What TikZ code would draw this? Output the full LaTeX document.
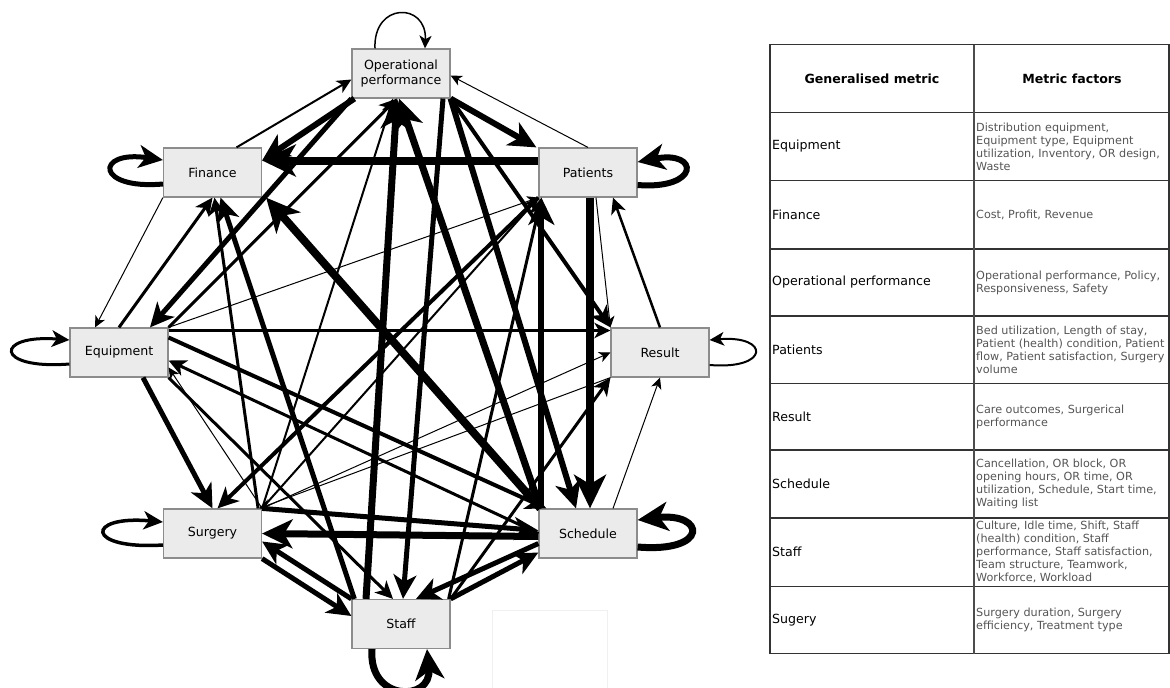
\documentclass[tikz,border=0pt]{standalone}
\usepackage{fontspec}
\setmainfont{DejaVu Sans}
\usetikzlibrary{arrows.meta}
\definecolor{boxfill}{HTML}{EBEBEB}
\definecolor{boxline}{HTML}{8C8C8C}
\definecolor{factortext}{HTML}{555555}
\definecolor{rule}{HTML}{333333}

\begin{document}
\begin{tikzpicture}[x=1pt,y=-1pt,
  metric/.style={draw=boxline, fill=boxfill, line width=1.2pt,
    minimum width=98pt, minimum height=49pt, inner sep=0pt,
    align=center, font=\fontsize{12.6}{15}\selectfont, text=black},
  link/.style={draw=black, line width=#1pt,
    -{Stealth[length=8pt 3.2, width'=0pt 0.95, inset'=0pt 0.28]}},
  label/.style={anchor=west, inner sep=0pt, font=\fontsize{12.6}{15}\selectfont, text=black},
  factor/.style={anchor=west, inner sep=0pt, align=left,
    font=\fontsize{11.2}{13}\selectfont, text=factortext},
  head/.style={inner sep=0pt, font=\fontsize{12.6}{15}\selectfont\bfseries, text=black}]

\useasboundingbox (0,0) rectangle (1170,688);
\fill[white] (0,0) rectangle (1170,688);
\clip (0,0) rectangle (1170,688);

% ---------- metric boxes ----------
\node[metric] (op)  at (401,73.5)  {Operational\\performance};
\node[metric] (fin) at (212.5,172.5) {Finance};
\node[metric] (pat) at (588,172.5) {Patients};
\node[metric] (eq)  at (119,352.5) {Equipment};
\node[metric] (res) at (660,352.5) {Result};
\node[metric] (sur) at (212.5,533.5) {Surgery};
\node[metric] (sch) at (588,533.5) {Schedule};
\node[metric] (sta) at (401,624)   {Staff};

% empty frame below the graph
\draw[draw=black!6, line width=1pt] (492,610) rectangle (607,692);

% ---------- self loops ----------
\draw[link=1.5] ([xshift=-26pt]op.north) .. controls (373,2) and (427,2) .. ([xshift=24pt]op.north);
\draw[link=5] ([yshift=-11.5pt]fin.west) .. controls (95,190) and (95,150) .. ([yshift=12.5pt]fin.west);
\draw[link=6] ([yshift=-12.5pt]pat.east) .. controls (700,190) and (700,150) .. ([yshift=10.5pt]pat.east);
\draw[link=3] ([yshift=-11.5pt]eq.west) .. controls (-6,370) and (-6,334) .. ([yshift=12.5pt]eq.west);
\draw[link=2] ([yshift=-12.5pt]res.east) .. controls (770,370) and (770,335) .. ([yshift=12.5pt]res.east);
\draw[link=3.5] ([yshift=-11.5pt]sur.west) .. controls (85,550) and (85,515) .. ([yshift=11.5pt]sur.west);
\draw[link=7] ([yshift=-13.5pt]sch.east) .. controls (710,553) and (705,512) .. ([yshift=13.5pt]sch.east);
\draw[link=7] ([xshift=-29pt]sta.south) .. controls (368,702) and (432,702) .. ([xshift=26pt]sta.south);

% ---------- links between metrics ----------
\draw[link=8] ([yshift=12pt]pat.west) -- ([yshift=12pt]fin.east);
\draw[link=6] ([xshift=3pt]op.south west) -- ([yshift=12pt]fin.east);
\draw[link=2] ([xshift=24pt]fin.north) -- ([yshift=-6pt]op.west);
\draw[link=6] (op.south east) -- ([xshift=-2pt]pat.north west);
\draw[link=1] (pat.north) -- ([yshift=-2pt]op.east);
\draw[link=2.5] (res.north) -- ([xshift=25pt]pat.south);
\draw[link=1] ([xshift=8pt]pat.south) -- (res.north west);
\draw[link=8] ([xshift=2pt]pat.south) -- ([xshift=2pt]sch.north);
\draw[link=6] ([xshift=3pt]sch.north west) -- ([xshift=3pt]pat.south west);
\draw[link=1] (eq.north east) -- (pat.south west);
\draw[link=5] (op.south west) -- ([xshift=31pt]eq.north);
\draw[link=3] (eq.north east) -- ([xshift=-4pt]op.south);
\draw[link=3] (eq.north) -- (fin.south);
\draw[link=1] (fin.south west) -- ([xshift=-24pt]eq.north);
\draw[link=2.5] ([yshift=22pt]eq.east) -- ([yshift=22pt]res.west);
\draw[link=5] ([xshift=24pt]eq.south) -- (sur.north);
\draw[link=1] (sur.north east) -- ([yshift=-15pt]eq.east);
\draw[link=3] (sch.west) -- ([yshift=-8pt]eq.east);
\draw[link=4] ([yshift=15pt]eq.east) -- ([xshift=8pt]sch.north west);
\draw[link=5] ([xshift=3pt]sta.north west) -- ([xshift=8pt]fin.south);
\draw[link=3] ([xshift=-4pt]sur.north east) -- ([xshift=2pt]fin.south);
\draw[link=8] ([xshift=2pt]sch.north west) -- ([xshift=4pt]fin.south east);
\draw[link=4] (op.south east) -- (res.north west);
\draw[link=4] (pat.south west) -- ([xshift=5pt]sur.north);
\draw[link=2] (sur.north east) -- (pat.south west);
\draw[link=1] (sur.north east) -- (res.west);
\draw[link=1] (res.south west) -- ([xshift=-3pt]sur.north east);
\draw[link=2] (sur.north east) -- ([xshift=-8pt]op.south);
\draw[link=3] (sta.north east) -- (res.south west);
\draw[link=1] ([xshift=25pt]sch.north) -- (res.south);
\draw[link=7] ([xshift=-35pt]sta.north) -- ([xshift=-4pt]op.south);
\draw[link=5] ([xshift=42pt]op.south) -- ([xshift=2pt]sta.north);
\draw[link=6] (op.south east) -- ([xshift=-12pt]sch.north);
\draw[link=7] ([xshift=2pt]sch.north west) -- ([xshift=-2pt]op.south);
\draw[link=3] ([xshift=-2pt]sta.north east) -- ([xshift=3pt]pat.south west);
\draw[link=3] (eq.south east) -- ([xshift=-8pt]sta.north);
\draw[link=5] (sur.south east) -- ([yshift=8pt]sta.west);
\draw[link=5] (sta.north west) -- ([yshift=-8pt]sur.east);
\draw[link=7] ([yshift=-3pt]sch.west) -- (sur.east);
\draw[link=5] (sur.north east) -- ([yshift=3pt]sch.west);
\draw[link=5] ([yshift=-10pt]sch.west) -- ([xshift=15pt]sta.north);
\draw[link=5] (sta.north east) -- ([yshift=-19pt]sch.west);

% ---------- table of metric factors ----------
\begin{scope}[draw=rule, line width=1.4pt]
  \draw (770,44.5) rectangle (1169,653.5);
  \foreach \yy in {112.5,180.5,249,316,383.5,450,518,586.5}
    \draw (770,\yy) -- (1169,\yy);
  \draw[draw=black!70, line width=2pt] (974,44.5) -- (974,653.5);
\end{scope}

\node[head] (h1) at (872,78.5) {Generalised metric};
\node[head] (h2) at (1072,78.5) {Metric factors};

\node[label] (l1) at (772,146.5) {Equipment};
\node[label] (l2) at (772,214.75) {Finance};
\node[label] (l3) at (772,282.5) {Operational performance};
\node[label] (l4) at (772,349.75) {Patients};
\node[label] (l5) at (772,416.75) {Result};
\node[label] (l6) at (772,484) {Schedule};
\node[label] (l7) at (772,552.25) {Staff};
\node[label] (l8) at (772,620) {Sugery};

\node[factor] (f1) at (976,146.5) {Distribution equipment,\\Equipment type, Equipment\\utilization, Inventory, OR design,\\Waste};
\node[factor] (f2) at (976,214.75) {Cost, Profit, Revenue};
\node[factor] (f3) at (976,282.5) {Operational performance, Policy,\\Responsiveness, Safety};
\node[factor] (f4) at (976,349.75) {Bed utilization, Length of stay,\\Patient (health) condition, Patient\\flow, Patient satisfaction, Surgery\\volume};
\node[factor] (f5) at (976,416.75) {Care outcomes, Surgerical\\performance};
\node[factor] (f6) at (976,484) {Cancellation, OR block, OR\\opening hours, OR time, OR\\utilization, Schedule, Start time,\\Waiting list};
\node[factor] (f7) at (976,552.25) {Culture, Idle time, Shift, Staff\\(health) condition, Staff\\performance, Staff satisfaction,\\Team structure, Teamwork,\\Workforce, Workload};
\node[factor] (f8) at (976,620) {Surgery duration, Surgery\\efficiency, Treatment type};
\end{tikzpicture}
\end{document}
